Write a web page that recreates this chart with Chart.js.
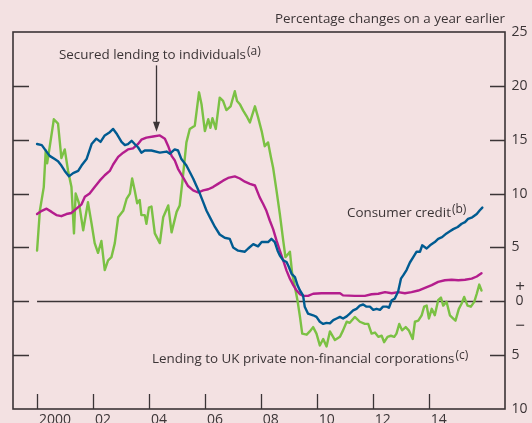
<!DOCTYPE html>
<html>
<head>
<meta charset="utf-8">
<script src="https://cdn.jsdelivr.net/npm/chart.js@4.4.0/dist/chart.umd.min.js"></script>
<style>
  html, body { margin: 0; padding: 0; background: #f3e1e2; }
  #wrap { width: 532px; height: 423px; }
</style>
</head>
<body>
<div id="wrap"><canvas id="lendingChart" width="532" height="423"></canvas></div>
<script>
// Secured lending, consumer credit and PNFC lending, % change on a year earlier
const blueYears = [2000.00, 2000.17, 2000.28, 2000.45, 2000.63, 2000.75, 2000.87, 2000.99, 2001.14, 2001.29,
  2001.47, 2001.59, 2001.77, 2001.95, 2002.12, 2002.27, 2002.42, 2002.60, 2002.72, 2002.86,
  2003.02, 2003.14, 2003.25, 2003.38, 2003.49, 2003.61, 2003.73, 2003.85, 2004.09, 2004.39,
  2004.63, 2004.75, 2004.92, 2005.04, 2005.16, 2005.34, 2005.46, 2005.58, 2005.70, 2005.82,
  2005.94, 2006.06, 2006.20, 2006.36, 2006.53, 2006.71, 2006.89, 2007.01, 2007.19, 2007.43,
  2007.55, 2007.73, 2007.90, 2008.03, 2008.26, 2008.38, 2008.50, 2008.60, 2008.68, 2008.80,
  2008.92, 2009.00, 2009.10, 2009.22, 2009.31, 2009.40, 2009.51, 2009.57, 2009.69, 2009.87,
  2009.99, 2010.11, 2010.23, 2010.35, 2010.47, 2010.59, 2010.71, 2010.83, 2010.94, 2011.07,
  2011.18, 2011.30, 2011.42, 2011.54, 2011.66, 2011.78, 2011.90, 2012.02, 2012.14, 2012.26,
  2012.37, 2012.50, 2012.58, 2012.68, 2012.79, 2012.91, 2013.01, 2013.09, 2013.21, 2013.33,
  2013.45, 2013.57, 2013.69, 2013.77, 2013.93, 2014.05, 2014.22, 2014.34, 2014.48, 2014.64,
  2014.76, 2014.88, 2015.04, 2015.18, 2015.30, 2015.41, 2015.56, 2015.72, 2015.83, 2015.92];
const consumerCredit = [14.6, 14.5, 14.1, 13.5, 13.2, 13.0, 12.6, 12.1, 11.6, 11.9,
  12.1, 12.6, 13.2, 14.6, 15.1, 14.8, 15.4, 15.7, 16.0, 15.5,
  14.8, 14.5, 14.6, 14.9, 14.6, 14.3, 13.8, 14.0, 14.0, 13.8,
  13.9, 13.7, 14.1, 14.0, 13.2, 12.6, 12.0, 11.4, 10.7, 10.0,
  9.2, 8.4, 7.7, 6.9, 6.2, 5.9, 5.8, 5.0, 4.7, 4.6,
  4.9, 5.3, 5.1, 5.5, 5.5, 5.8, 5.5, 4.7, 4.25, 3.8,
  3.65, 3.2, 2.55, 2.25, 1.5, 1.0, 0.55, -0.5, -1.15, -1.3,
  -1.45, -1.9, -2.1, -2.0, -2.05, -1.75, -1.6, -1.45, -1.6, -1.4,
  -1.15, -0.85, -0.7, -0.4, -0.3, -0.5, -0.5, -0.8, -0.7, -0.8,
  -0.5, -0.5, -0.6, 0.1, 0.25, 0.9, 2.1, 2.4, 2.9, 3.6,
  4.1, 4.6, 4.6, 5.2, 4.9, 5.2, 5.5, 5.8, 5.95, 6.3,
  6.5, 6.7, 6.9, 7.2, 7.35, 7.65, 7.8, 8.1, 8.45, 8.7];

const magentaYears = [2000.00, 2000.17, 2000.34, 2000.52, 2000.69, 2000.87, 2001.05, 2001.23, 2001.41, 2001.59,
  2001.71, 2001.88, 2002.06, 2002.24, 2002.42, 2002.60, 2002.72, 2002.90, 2003.08, 2003.25,
  2003.43, 2003.61, 2003.73, 2003.91, 2004.15, 2004.39, 2004.57, 2004.69, 2004.81, 2004.92,
  2005.04, 2005.22, 2005.40, 2005.58, 2005.76, 2005.94, 2006.12, 2006.29, 2006.47, 2006.65,
  2006.83, 2007.07, 2007.25, 2007.43, 2007.61, 2007.79, 2007.96, 2008.08, 2008.20, 2008.32,
  2008.44, 2008.56, 2008.68, 2008.80, 2008.92, 2009.04, 2009.16, 2009.28, 2009.40, 2009.51,
  2009.69, 2009.87, 2010.17, 2010.53, 2010.83, 2010.94, 2011.36, 2011.72, 2011.96, 2012.20,
  2012.44, 2012.68, 2012.91, 2013.15, 2013.39, 2013.63, 2013.87, 2014.11, 2014.34, 2014.58,
  2014.82, 2015.06, 2015.30, 2015.54, 2015.72, 2015.89];
const securedLending = [8.1, 8.4, 8.6, 8.3, 8.0, 7.9, 8.1, 8.2, 8.6, 9.0,
  9.7, 10.0, 10.6, 11.2, 11.7, 12.1, 12.7, 13.4, 13.8, 14.1,
  14.2, 14.6, 15.0, 15.2, 15.3, 15.4, 15.1, 14.4, 13.5, 13.1,
  12.3, 11.5, 10.7, 10.3, 10.1, 10.3, 10.4, 10.6, 10.9, 11.2,
  11.45, 11.6, 11.4, 11.1, 10.9, 10.75, 9.65, 9.05, 8.4, 7.5,
  6.7, 5.65, 4.7, 3.8, 2.85, 2.1, 1.5, 1.0, 0.65, 0.5,
  0.5, 0.7, 0.75, 0.75, 0.75, 0.55, 0.5, 0.5, 0.65, 0.7,
  0.85, 0.75, 0.85, 0.75, 0.85, 1.0, 1.25, 1.5, 1.8, 1.95,
  2.0, 1.95, 2.0, 2.1, 2.3, 2.6];

const greenYears = [2000.00, 2000.10, 2000.24, 2000.31, 2000.36, 2000.45, 2000.60, 2000.75, 2000.87, 2000.99,
  2001.11, 2001.23, 2001.32, 2001.38, 2001.50, 2001.65, 2001.82, 2001.95, 2002.06, 2002.18,
  2002.30, 2002.42, 2002.54, 2002.66, 2002.78, 2002.90, 2003.08, 2003.20, 2003.32, 2003.40,
  2003.49, 2003.58, 2003.67, 2003.73, 2003.85, 2003.91, 2004.00, 2004.09, 2004.21, 2004.39,
  2004.51, 2004.69, 2004.81, 2004.99, 2005.10, 2005.20, 2005.34, 2005.46, 2005.64, 2005.79,
  2005.88, 2006.00, 2006.12, 2006.20, 2006.27, 2006.39, 2006.53, 2006.65, 2006.77, 2006.92,
  2007.07, 2007.15, 2007.25, 2007.37, 2007.49, 2007.61, 2007.79, 2007.90, 2008.03, 2008.14,
  2008.26, 2008.36, 2008.44, 2008.56, 2008.68, 2008.80, 2008.88, 2008.98, 2009.04, 2009.12,
  2009.22, 2009.31, 2009.40, 2009.48, 2009.64, 2009.75, 2009.87, 2009.99, 2010.11, 2010.23,
  2010.35, 2010.47, 2010.65, 2010.83, 2010.94, 2011.07, 2011.18, 2011.36, 2011.54, 2011.72,
  2011.84, 2011.96, 2012.08, 2012.20, 2012.32, 2012.41, 2012.53, 2012.65, 2012.77, 2012.85,
  2012.95, 2013.05, 2013.18, 2013.29, 2013.43, 2013.51, 2013.63, 2013.75, 2013.84, 2013.93,
  2014.01, 2014.11, 2014.22, 2014.34, 2014.44, 2014.52, 2014.64, 2014.76, 2014.88, 2014.96,
  2015.08, 2015.18, 2015.27, 2015.39, 2015.51, 2015.63, 2015.72, 2015.81, 2015.89];
const pnfcLending = [4.7, 8.4, 10.6, 14.0, 12.8, 14.3, 16.9, 16.5, 13.3, 14.1,
  12.1, 10.6, 6.3, 10.0, 9.1, 6.6, 9.2, 7.2, 5.4, 4.5,
  5.6, 2.9, 3.8, 4.1, 5.4, 7.8, 8.4, 9.5, 10.0, 11.4,
  10.3, 9.1, 9.4, 8.0, 8.0, 7.2, 8.7, 8.8, 6.3, 5.4,
  7.8, 8.9, 6.4, 8.3, 8.9, 11.2, 14.75, 16.0, 16.3, 19.4,
  18.3, 15.8, 16.9, 16.1, 17.0, 16.0, 18.9, 18.6, 17.75, 18.1,
  19.5, 18.6, 18.3, 17.7, 17.2, 16.6, 18.1, 17.1, 15.8, 14.4,
  14.75, 13.4, 12.4, 10.3, 8.1, 5.65, 4.1, 4.4, 4.6, 2.6,
  1.3, 0.1, -1.45, -3.0, -3.1, -2.8, -2.4, -3.0, -4.1, -3.5,
  -4.2, -2.8, -3.6, -3.3, -2.7, -1.9, -2.0, -1.45, -1.9, -2.1,
  -2.1, -3.0, -2.9, -3.3, -3.2, -3.8, -3.3, -3.2, -3.3, -3.0,
  -2.1, -2.7, -2.4, -2.7, -3.5, -1.9, -1.8, -1.3, -0.5, -0.4,
  -1.6, -0.7, -1.3, 0.1, 0.35, -0.4, -0.05, -1.3, -1.6, -1.8,
  -0.7, -0.2, 0.4, -0.4, -0.5, -0.05, 0.7, 1.55, 1.0];

// axis ticks
const xTickYears = [2000, 2002, 2004, 2006, 2008, 2010, 2012, 2014];
const xTickLabels = ['2000', '02', '04', '06', '08', '10', '12', '14'];
const yTickValues = [25, 20, 15, 10, 5, 0, -5, -10];
const yTickLabels = ['25', '20', '15', '10', '5', '0', '5', '10'];

const INK = '#3b3436';
const BLUE = '#005b91';
const MAGENTA = '#b41d8d';
const GREEN = '#7bc144';
const FONT = '"Open Sans", "Noto Sans", sans-serif';

function toPoints(xs, ys) {
  return xs.map((x, i) => ({ x: x, y: ys[i] }));
}

// draws text followed by a raised footnote marker
function noteText(ctx, text, note, x, y) {
  ctx.font = '13.4px ' + FONT;
  ctx.textAlign = 'left';
  ctx.textBaseline = 'alphabetic';
  ctx.fillText(text, x, y);
  const w = ctx.measureText(text).width;
  ctx.font = '12px ' + FONT;
  ctx.fillText(note, x + w + 1, y - 4);
}

const framePlugin = {
  id: 'frame',
  beforeDatasetsDraw(chart) {
    const { ctx, chartArea: a, scales: { x, y } } = chart;
    ctx.save();
    ctx.strokeStyle = INK;
    ctx.lineWidth = 1.3;

    // zero line across the span of the data
    const y0 = Math.round(y.getPixelForValue(0)) + 0.5;
    ctx.beginPath();
    ctx.moveTo(x.getPixelForValue(blueYears[0]), y0);
    ctx.lineTo(x.getPixelForValue(blueYears[blueYears.length - 1]), y0);
    ctx.stroke();

    // inward ticks on both sides
    yTickValues.forEach(v => {
      if (v >= 25 || v <= -10) return;
      const py = Math.round(y.getPixelForValue(v)) + 0.5;
      ctx.beginPath();
      ctx.moveTo(a.left, py); ctx.lineTo(a.left + 16, py);
      ctx.moveTo(a.right - 15, py); ctx.lineTo(a.right, py);
      ctx.stroke();
    });

    // year ticks standing on the bottom edge
    xTickYears.forEach(v => {
      const px = Math.round(x.getPixelForValue(v)) + 0.5;
      ctx.beginPath();
      ctx.moveTo(px, a.bottom); ctx.lineTo(px, a.bottom - 15);
      ctx.stroke();
    });

    ctx.lineWidth = 1.6;
    ctx.strokeRect(a.left, a.top, a.right - a.left, a.bottom - a.top);
    ctx.restore();
  },
  afterDatasetsDraw(chart) {
    const { ctx, chartArea: a, scales: { x, y } } = chart;
    ctx.save();
    ctx.fillStyle = INK;
    ctx.strokeStyle = INK;

    // right-hand axis labels: numbers left-aligned, 0 and signs centred
    ctx.font = '14px ' + FONT;
    ctx.textBaseline = 'middle';
    yTickValues.forEach((v, i) => {
      if (v === 0) {
        ctx.textAlign = 'center';
        ctx.fillText(yTickLabels[i], 519.5, y.getPixelForValue(v));
      } else {
        ctx.textAlign = 'left';
        ctx.fillText(yTickLabels[i], 511.5, y.getPixelForValue(v));
      }
    });
    ctx.font = '17px ' + FONT;
    ctx.textAlign = 'center';
    ctx.fillText('+', 520, y.getPixelForValue(1.3));
    ctx.fillText('\u2212', 520, y.getPixelForValue(-2.35));

    // year labels sit just right of each tick
    ctx.font = '14px ' + FONT;
    ctx.textAlign = 'left';
    ctx.textBaseline = 'alphabetic';
    xTickYears.forEach((v, i) => {
      ctx.fillText(xTickLabels[i], x.getPixelForValue(v) + 2, 424);
    });

    // units
    ctx.font = '13.4px ' + FONT;
    ctx.textAlign = 'right';
    ctx.fillText('Percentage changes on a year earlier', a.right, 22.5);

    // series labels
    noteText(ctx, 'Secured lending to individuals', '(a)', 59, 59);
    noteText(ctx, 'Consumer credit', '(b)', 347, 216.5);
    noteText(ctx, 'Lending to UK private non-financial corporations', '(c)', 152, 362.5);

    // arrow pointing at the secured lending peak
    const ax = Math.round(x.getPixelForValue(2004.25)) + 0.5;
    const top = y.getPixelForValue(21.9);
    const tip = y.getPixelForValue(15.75);
    ctx.lineWidth = 1.3;
    ctx.beginPath();
    ctx.moveTo(ax, top); ctx.lineTo(ax, tip - 8);
    ctx.stroke();
    ctx.beginPath();
    ctx.moveTo(ax - 3.5, tip - 10);
    ctx.lineTo(ax + 3.5, tip - 10);
    ctx.lineTo(ax, tip);
    ctx.closePath();
    ctx.fill();
    ctx.restore();
  }
};

document.addEventListener('DOMContentLoaded', function () {
  const ctx = document.getElementById('lendingChart').getContext('2d');
  new Chart(ctx, {
    type: 'line',
    data: {
      datasets: [
        { label: 'Consumer credit', data: toPoints(blueYears, consumerCredit), borderColor: BLUE },
        { label: 'Secured lending to individuals', data: toPoints(magentaYears, securedLending), borderColor: MAGENTA },
        { label: 'Lending to UK private non-financial corporations', data: toPoints(greenYears, pnfcLending), borderColor: GREEN }
      ]
    },
    options: {
      responsive: false,
      animation: false,
      devicePixelRatio: 1,
      layout: { padding: { left: 13, right: 27, top: 32, bottom: 14 } },
      elements: {
        line: { borderWidth: 2.4, tension: 0, borderJoinStyle: 'round', borderCapStyle: 'round' },
        point: { radius: 0, hoverRadius: 0 }
      },
      plugins: { legend: { display: false }, tooltip: { enabled: false } },
      scales: {
        x: { type: 'linear', display: false, min: 1999.14, max: 2016.73 },
        y: { type: 'linear', display: false, min: -10, max: 25 }
      }
    },
    plugins: [framePlugin]
  });
});
</script>
</body>
</html>
